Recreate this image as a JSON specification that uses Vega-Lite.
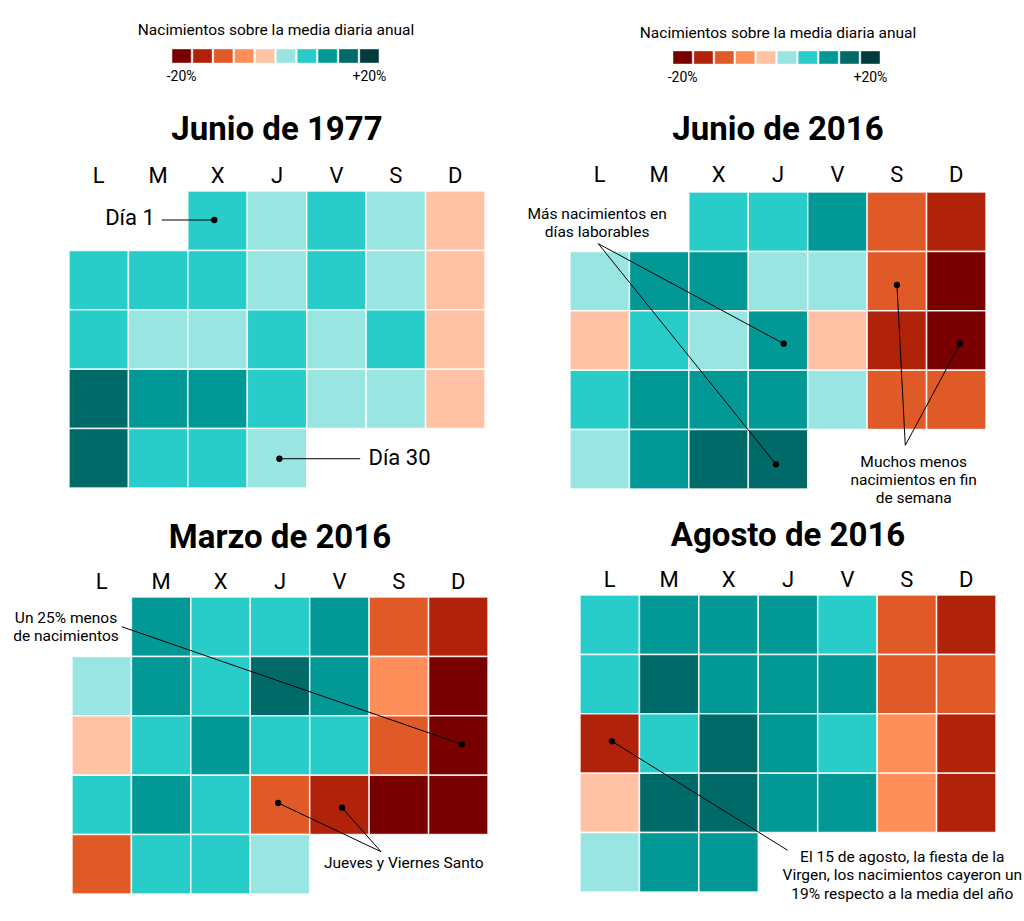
{
  "$schema": "https://vega.github.io/schema/vega-lite/v6.json",
  "padding": {"left": 13, "top": 23, "right": 0, "bottom": 0},
  "background": "#ffffff",
  "config": {
    "font": "Roboto",
    "view": {"stroke": null},
    "title": {"font": "Roboto", "color": "#000000"},
    "axis": {"labelFont": "Roboto", "labelColor": "#000000"}
  },
  "datasets": {
    "niveles": [
      {"nivel": 1}, {"nivel": 2}, {"nivel": 3}, {"nivel": 4}, {"nivel": 5},
      {"nivel": 6}, {"nivel": 7}, {"nivel": 8}, {"nivel": 9}, {"nivel": 10}
    ],
    "c1977": [
      {"dia": "X", "semana": 1, "nivel": 7}, {"dia": "J", "semana": 1, "nivel": 6}, {"dia": "V", "semana": 1, "nivel": 7}, {"dia": "S", "semana": 1, "nivel": 6}, {"dia": "D", "semana": 1, "nivel": 5},
      {"dia": "L", "semana": 2, "nivel": 7}, {"dia": "M", "semana": 2, "nivel": 7}, {"dia": "X", "semana": 2, "nivel": 7}, {"dia": "J", "semana": 2, "nivel": 6}, {"dia": "V", "semana": 2, "nivel": 7}, {"dia": "S", "semana": 2, "nivel": 6}, {"dia": "D", "semana": 2, "nivel": 5},
      {"dia": "L", "semana": 3, "nivel": 7}, {"dia": "M", "semana": 3, "nivel": 6}, {"dia": "X", "semana": 3, "nivel": 6}, {"dia": "J", "semana": 3, "nivel": 7}, {"dia": "V", "semana": 3, "nivel": 6}, {"dia": "S", "semana": 3, "nivel": 7}, {"dia": "D", "semana": 3, "nivel": 5},
      {"dia": "L", "semana": 4, "nivel": 9}, {"dia": "M", "semana": 4, "nivel": 8}, {"dia": "X", "semana": 4, "nivel": 8}, {"dia": "J", "semana": 4, "nivel": 7}, {"dia": "V", "semana": 4, "nivel": 6}, {"dia": "S", "semana": 4, "nivel": 6}, {"dia": "D", "semana": 4, "nivel": 5},
      {"dia": "L", "semana": 5, "nivel": 9}, {"dia": "M", "semana": 5, "nivel": 7}, {"dia": "X", "semana": 5, "nivel": 7}, {"dia": "J", "semana": 5, "nivel": 6}
    ],
    "cjun2016": [
      {"dia": "X", "semana": 1, "nivel": 7}, {"dia": "J", "semana": 1, "nivel": 7}, {"dia": "V", "semana": 1, "nivel": 8}, {"dia": "S", "semana": 1, "nivel": 3}, {"dia": "D", "semana": 1, "nivel": 2},
      {"dia": "L", "semana": 2, "nivel": 6}, {"dia": "M", "semana": 2, "nivel": 8}, {"dia": "X", "semana": 2, "nivel": 8}, {"dia": "J", "semana": 2, "nivel": 6}, {"dia": "V", "semana": 2, "nivel": 6}, {"dia": "S", "semana": 2, "nivel": 3}, {"dia": "D", "semana": 2, "nivel": 1},
      {"dia": "L", "semana": 3, "nivel": 5}, {"dia": "M", "semana": 3, "nivel": 7}, {"dia": "X", "semana": 3, "nivel": 6}, {"dia": "J", "semana": 3, "nivel": 8}, {"dia": "V", "semana": 3, "nivel": 5}, {"dia": "S", "semana": 3, "nivel": 2}, {"dia": "D", "semana": 3, "nivel": 1},
      {"dia": "L", "semana": 4, "nivel": 7}, {"dia": "M", "semana": 4, "nivel": 8}, {"dia": "X", "semana": 4, "nivel": 8}, {"dia": "J", "semana": 4, "nivel": 8}, {"dia": "V", "semana": 4, "nivel": 6}, {"dia": "S", "semana": 4, "nivel": 3}, {"dia": "D", "semana": 4, "nivel": 3},
      {"dia": "L", "semana": 5, "nivel": 6}, {"dia": "M", "semana": 5, "nivel": 8}, {"dia": "X", "semana": 5, "nivel": 9}, {"dia": "J", "semana": 5, "nivel": 9}
    ],
    "cmar2016": [
      {"dia": "M", "semana": 1, "nivel": 8}, {"dia": "X", "semana": 1, "nivel": 7}, {"dia": "J", "semana": 1, "nivel": 7}, {"dia": "V", "semana": 1, "nivel": 8}, {"dia": "S", "semana": 1, "nivel": 3}, {"dia": "D", "semana": 1, "nivel": 2},
      {"dia": "L", "semana": 2, "nivel": 6}, {"dia": "M", "semana": 2, "nivel": 8}, {"dia": "X", "semana": 2, "nivel": 7}, {"dia": "J", "semana": 2, "nivel": 9}, {"dia": "V", "semana": 2, "nivel": 8}, {"dia": "S", "semana": 2, "nivel": 4}, {"dia": "D", "semana": 2, "nivel": 1},
      {"dia": "L", "semana": 3, "nivel": 5}, {"dia": "M", "semana": 3, "nivel": 7}, {"dia": "X", "semana": 3, "nivel": 8}, {"dia": "J", "semana": 3, "nivel": 7}, {"dia": "V", "semana": 3, "nivel": 7}, {"dia": "S", "semana": 3, "nivel": 3}, {"dia": "D", "semana": 3, "nivel": 1},
      {"dia": "L", "semana": 4, "nivel": 7}, {"dia": "M", "semana": 4, "nivel": 8}, {"dia": "X", "semana": 4, "nivel": 7}, {"dia": "J", "semana": 4, "nivel": 3}, {"dia": "V", "semana": 4, "nivel": 2}, {"dia": "S", "semana": 4, "nivel": 1}, {"dia": "D", "semana": 4, "nivel": 1},
      {"dia": "L", "semana": 5, "nivel": 3}, {"dia": "M", "semana": 5, "nivel": 7}, {"dia": "X", "semana": 5, "nivel": 7}, {"dia": "J", "semana": 5, "nivel": 6}
    ],
    "cago2016": [
      {"dia": "L", "semana": 1, "nivel": 7}, {"dia": "M", "semana": 1, "nivel": 8}, {"dia": "X", "semana": 1, "nivel": 8}, {"dia": "J", "semana": 1, "nivel": 8}, {"dia": "V", "semana": 1, "nivel": 7}, {"dia": "S", "semana": 1, "nivel": 3}, {"dia": "D", "semana": 1, "nivel": 2},
      {"dia": "L", "semana": 2, "nivel": 7}, {"dia": "M", "semana": 2, "nivel": 9}, {"dia": "X", "semana": 2, "nivel": 8}, {"dia": "J", "semana": 2, "nivel": 8}, {"dia": "V", "semana": 2, "nivel": 8}, {"dia": "S", "semana": 2, "nivel": 3}, {"dia": "D", "semana": 2, "nivel": 3},
      {"dia": "L", "semana": 3, "nivel": 2}, {"dia": "M", "semana": 3, "nivel": 7}, {"dia": "X", "semana": 3, "nivel": 9}, {"dia": "J", "semana": 3, "nivel": 8}, {"dia": "V", "semana": 3, "nivel": 7}, {"dia": "S", "semana": 3, "nivel": 4}, {"dia": "D", "semana": 3, "nivel": 2},
      {"dia": "L", "semana": 4, "nivel": 5}, {"dia": "M", "semana": 4, "nivel": 9}, {"dia": "X", "semana": 4, "nivel": 9}, {"dia": "J", "semana": 4, "nivel": 8}, {"dia": "V", "semana": 4, "nivel": 8}, {"dia": "S", "semana": 4, "nivel": 4}, {"dia": "D", "semana": 4, "nivel": 2},
      {"dia": "L", "semana": 5, "nivel": 6}, {"dia": "M", "semana": 5, "nivel": 8}, {"dia": "X", "semana": 5, "nivel": 8}
    ],
    "t1977": [
      {"t": "Día 1", "u": 1.026, "v": 0.455},
      {"t": "Día 30", "u": 5.561, "v": 4.49}
    ],
    "r1977": [
      {"u": 1.56, "v": 0.488, "u2": 2.445, "v2": 0.488},
      {"u": 3.54, "v": 4.507, "u2": 4.9, "v2": 4.507}
    ],
    "p1977": [
      {"u": 2.445, "v": 0.488},
      {"u": 3.54, "v": 4.507}
    ],
    "tjun2016": [
      {"t": "Más nacimientos en", "u": 0.457, "v": 0.365},
      {"t": "días laborables", "u": 0.457, "v": 0.668},
      {"t": "Muchos menos", "u": 5.783, "v": 4.545},
      {"t": "nacimientos en fin", "u": 5.783, "v": 4.853},
      {"t": "de semana", "u": 5.783, "v": 5.146}
    ],
    "rjun2016": [
      {"u": 0.476, "v": 0.87, "u2": 3.596, "v2": 2.554},
      {"u": 0.476, "v": 0.87, "u2": 3.466, "v2": 4.584},
      {"u": 5.642, "v": 4.264, "u2": 5.502, "v2": 1.566},
      {"u": 5.642, "v": 4.264, "u2": 6.562, "v2": 2.554}
    ],
    "pjun2016": [
      {"u": 3.596, "v": 2.554},
      {"u": 3.466, "v": 4.584},
      {"u": 5.502, "v": 1.566},
      {"u": 6.562, "v": 2.554}
    ],
    "tmar2016": [
      {"t": "Un 25% menos", "u": -0.101, "v": 0.348},
      {"t": "de nacimientos", "u": -0.101, "v": 0.657},
      {"t": "Jueves y Viernes Santo", "u": 5.583, "v": 4.473}
    ],
    "rmar2016": [
      {"u": 0.836, "v": 0.5, "u2": 6.562, "v2": 2.48},
      {"u": 5.2, "v": 4.288, "u2": 3.47, "v2": 3.468},
      {"u": 5.2, "v": 4.288, "u2": 4.543, "v2": 3.547}
    ],
    "pmar2016": [
      {"u": 6.562, "v": 2.48},
      {"u": 3.47, "v": 3.468},
      {"u": 4.543, "v": 3.547}
    ],
    "tago2016": [
      {"t": "El 15 de agosto, la fiesta de la", "u": 5.423, "v": 4.41},
      {"t": "Virgen, los nacimientos cayeron un", "u": 5.423, "v": 4.719},
      {"t": "19% respecto a la media del año", "u": 5.423, "v": 5.03}
    ],
    "rago2016": [
      {"u": 0.538, "v": 2.463, "u2": 3.495, "v2": 4.298}
    ],
    "pago2016": [
      {"u": 0.538, "v": 2.463}
    ]
  },
  "columns": 2,
  "spacing": {"row": 106, "column": 82},
  "bounds": "flush",
  "concat": [
    {
      "width": 416,
      "height": 36,
      "title": {"text": "Nacimientos sobre la media diaria anual", "fontSize": 15.5, "fontWeight": "normal", "frame": "group", "anchor": "middle", "dx": -1, "offset": 10},
      "data": {"name": "niveles"},
      "mark": {"type": "rect", "stroke": "#ffffff", "strokeOpacity": 0.4, "strokeWidth": 1},
      "encoding": {
        "x": {"field": "nivel", "type": "ordinal", "scale": {"range": [103, 310], "paddingInner": 0.08, "paddingOuter": 0},
          "axis": {"orient": "bottom", "offset": -22, "values": [1, 10], "labelExpr": "datum.value == 1 ? '-20%' : '+20%'", "domain": false, "ticks": false, "title": null, "labelFontSize": 14, "labelPadding": 6, "labelAngle": 0}},
        "y": {"datum": "a", "type": "nominal", "scale": {"range": [0, 14], "paddingInner": 0, "paddingOuter": 0}, "axis": null},
        "color": {"field": "nivel", "type": "ordinal", "scale": {"domain": [1, 2, 3, 4, 5, 6, 7, 8, 9, 10], "range": ["#780000", "#b0230a", "#e05a28", "#ff8f5a", "#ffc2a4", "#98e5e1", "#28ccc8", "#029896", "#006a69", "#003c3b"]}, "legend": null}
      }
    },
    {
      "width": 416,
      "height": 36,
      "title": {"text": "Nacimientos sobre la media diaria anual", "fontSize": 15.5, "fontWeight": "normal", "frame": "group", "anchor": "middle", "dx": 0, "offset": 8},
      "data": {"name": "niveles"},
      "mark": {"type": "rect", "stroke": "#ffffff", "strokeOpacity": 0.4, "strokeWidth": 1},
      "encoding": {
        "x": {"field": "nivel", "type": "ordinal", "scale": {"range": [103, 310], "paddingInner": 0.08, "paddingOuter": 0},
          "axis": {"orient": "bottom", "offset": -21, "values": [1, 10], "labelExpr": "datum.value == 1 ? '-20%' : '+20%'", "domain": false, "ticks": false, "title": null, "labelFontSize": 14, "labelPadding": 6, "labelAngle": 0}},
        "y": {"datum": "a", "type": "nominal", "scale": {"range": [2, 15], "paddingInner": 0, "paddingOuter": 0}, "axis": null},
        "color": {"field": "nivel", "type": "ordinal", "legend": null}
      }
    },
    {
      "width": 416,
      "height": 298,
      "title": {"text": "Junio de 1977", "fontSize": 33, "fontWeight": "bold", "frame": "group", "anchor": "middle", "offset": 17},
      "resolve": {"scale": {"x": "independent", "y": "independent"}},
      "layer": [
        {
          "data": {"name": "c1977"},
          "mark": {"type": "rect", "stroke": "#ffffff", "strokeWidth": 1.5, "strokeOpacity": 0.85},
          "encoding": {
            "x": {"field": "dia", "type": "ordinal", "scale": {"domain": ["L", "M", "X", "J", "V", "S", "D"], "paddingInner": 0, "paddingOuter": 0},
              "axis": {"orient": "top", "title": null, "domain": false, "ticks": false, "labelFontSize": 22, "labelPadding": 4, "labelAngle": 0}},
            "y": {"field": "semana", "type": "ordinal", "scale": {"domain": [1, 2, 3, 4, 5], "range": [0, 297], "paddingInner": 0, "paddingOuter": 0}, "axis": null},
            "color": {"field": "nivel", "type": "ordinal", "legend": null}
          }
        },
        {
          "layer": [
            {
              "data": {"name": "r1977"},
              "mark": {"type": "rule", "color": "#000000", "strokeWidth": 1},
              "encoding": {
                "x": {"field": "u", "type": "quantitative", "scale": {"domain": [0, 7], "nice": false, "zero": false}, "axis": null},
                "y": {"field": "v", "type": "quantitative", "scale": {"domain": [0, 5], "range": [0, 297], "nice": false, "zero": false}, "axis": null},
                "x2": {"field": "u2"},
                "y2": {"field": "v2"}
              }
            },
            {
              "data": {"name": "p1977"},
              "mark": {"type": "circle", "size": 40, "color": "#000000", "opacity": 1},
              "encoding": {
                "x": {"field": "u", "type": "quantitative"},
                "y": {"field": "v", "type": "quantitative"}
              }
            },
            {
              "data": {"name": "t1977"},
              "mark": {"type": "text", "fontSize": 22, "align": "center", "baseline": "middle", "color": "#000000"},
              "encoding": {
                "x": {"field": "u", "type": "quantitative"},
                "y": {"field": "v", "type": "quantitative"},
                "text": {"field": "t"}
              }
            }
          ]
        }
      ]
    },
    {
      "width": 416,
      "height": 298,
      "title": {"text": "Junio de 2016", "fontSize": 33, "fontWeight": "bold", "frame": "group", "anchor": "middle", "offset": 16},
      "resolve": {"scale": {"x": "independent", "y": "independent"}},
      "layer": [
        {
          "data": {"name": "cjun2016"},
          "mark": {"type": "rect", "stroke": "#ffffff", "strokeWidth": 1.5, "strokeOpacity": 0.85},
          "encoding": {
            "x": {"field": "dia", "type": "ordinal", "scale": {"domain": ["L", "M", "X", "J", "V", "S", "D"], "paddingInner": 0, "paddingOuter": 0},
              "axis": {"orient": "top", "title": null, "domain": false, "ticks": false, "labelFontSize": 22, "labelPadding": 5, "labelAngle": 0}},
            "y": {"field": "semana", "type": "ordinal", "scale": {"domain": [1, 2, 3, 4, 5], "range": [1, 298], "paddingInner": 0, "paddingOuter": 0}, "axis": null},
            "color": {"field": "nivel", "type": "ordinal", "legend": null}
          }
        },
        {
          "layer": [
            {
              "data": {"name": "rjun2016"},
              "mark": {"type": "rule", "color": "#000000", "strokeWidth": 1},
              "encoding": {
                "x": {"field": "u", "type": "quantitative", "scale": {"domain": [0, 7], "nice": false, "zero": false}, "axis": null},
                "y": {"field": "v", "type": "quantitative", "scale": {"domain": [0, 5], "range": [1, 298], "nice": false, "zero": false}, "axis": null},
                "x2": {"field": "u2"},
                "y2": {"field": "v2"}
              }
            },
            {
              "data": {"name": "pjun2016"},
              "mark": {"type": "circle", "size": 40, "color": "#000000", "opacity": 1},
              "encoding": {
                "x": {"field": "u", "type": "quantitative"},
                "y": {"field": "v", "type": "quantitative"}
              }
            },
            {
              "data": {"name": "tjun2016"},
              "mark": {"type": "text", "fontSize": 15.5, "align": "center", "baseline": "middle", "color": "#000000"},
              "encoding": {
                "x": {"field": "u", "type": "quantitative"},
                "y": {"field": "v", "type": "quantitative"},
                "text": {"field": "t"}
              }
            }
          ]
        }
      ]
    },
    {
      "width": 419,
      "height": 299,
      "title": {"text": "Marzo de 2016", "fontSize": 33, "fontWeight": "bold", "frame": "group", "anchor": "middle", "offset": 15, "dx": 1.5},
      "resolve": {"scale": {"x": "independent", "y": "independent"}},
      "layer": [
        {
          "data": {"name": "cmar2016"},
          "mark": {"type": "rect", "stroke": "#ffffff", "strokeWidth": 1.5, "strokeOpacity": 0.85},
          "encoding": {
            "x": {"field": "dia", "type": "ordinal", "scale": {"domain": ["L", "M", "X", "J", "V", "S", "D"], "range": [3, 419], "paddingInner": 0, "paddingOuter": 0},
              "axis": {"orient": "top", "title": null, "domain": false, "ticks": false, "labelFontSize": 22, "labelPadding": 2, "labelAngle": 0}},
            "y": {"field": "semana", "type": "ordinal", "scale": {"domain": [1, 2, 3, 4, 5], "range": [2, 299], "paddingInner": 0, "paddingOuter": 0}, "axis": null},
            "color": {"field": "nivel", "type": "ordinal", "legend": null}
          }
        },
        {
          "layer": [
            {
              "data": {"name": "rmar2016"},
              "mark": {"type": "rule", "color": "#000000", "strokeWidth": 1},
              "encoding": {
                "x": {"field": "u", "type": "quantitative", "scale": {"domain": [0, 7], "range": [3, 419], "nice": false, "zero": false}, "axis": null},
                "y": {"field": "v", "type": "quantitative", "scale": {"domain": [0, 5], "range": [2, 299], "nice": false, "zero": false}, "axis": null},
                "x2": {"field": "u2"},
                "y2": {"field": "v2"}
              }
            },
            {
              "data": {"name": "pmar2016"},
              "mark": {"type": "circle", "size": 40, "color": "#000000", "opacity": 1},
              "encoding": {
                "x": {"field": "u", "type": "quantitative"},
                "y": {"field": "v", "type": "quantitative"}
              }
            },
            {
              "data": {"name": "tmar2016"},
              "mark": {"type": "text", "fontSize": 15.5, "align": "center", "baseline": "middle", "color": "#000000"},
              "encoding": {
                "x": {"field": "u", "type": "quantitative"},
                "y": {"field": "v", "type": "quantitative"},
                "text": {"field": "t"}
              }
            }
          ]
        }
      ]
    },
    {
      "width": 426,
      "height": 299,
      "title": {"text": "Agosto de 2016", "fontSize": 33, "fontWeight": "bold", "frame": "group", "anchor": "middle", "offset": 15, "dx": 5},
      "resolve": {"scale": {"x": "independent", "y": "independent"}},
      "layer": [
        {
          "data": {"name": "cago2016"},
          "mark": {"type": "rect", "stroke": "#ffffff", "strokeWidth": 1.5, "strokeOpacity": 0.85},
          "encoding": {
            "x": {"field": "dia", "type": "ordinal", "scale": {"domain": ["L", "M", "X", "J", "V", "S", "D"], "range": [10, 426], "paddingInner": 0, "paddingOuter": 0},
              "axis": {"orient": "top", "title": null, "domain": false, "ticks": false, "labelFontSize": 22, "labelPadding": 4, "labelAngle": 0}},
            "y": {"field": "semana", "type": "ordinal", "scale": {"domain": [1, 2, 3, 4, 5], "range": [0, 297], "paddingInner": 0, "paddingOuter": 0}, "axis": null},
            "color": {"field": "nivel", "type": "ordinal", "legend": null}
          }
        },
        {
          "layer": [
            {
              "data": {"name": "rago2016"},
              "mark": {"type": "rule", "color": "#000000", "strokeWidth": 1},
              "encoding": {
                "x": {"field": "u", "type": "quantitative", "scale": {"domain": [0, 7], "range": [10, 426], "nice": false, "zero": false}, "axis": null},
                "y": {"field": "v", "type": "quantitative", "scale": {"domain": [0, 5], "range": [0, 297], "nice": false, "zero": false}, "axis": null},
                "x2": {"field": "u2"},
                "y2": {"field": "v2"}
              }
            },
            {
              "data": {"name": "pago2016"},
              "mark": {"type": "circle", "size": 40, "color": "#000000", "opacity": 1},
              "encoding": {
                "x": {"field": "u", "type": "quantitative"},
                "y": {"field": "v", "type": "quantitative"}
              }
            },
            {
              "data": {"name": "tago2016"},
              "mark": {"type": "text", "fontSize": 15.5, "align": "center", "baseline": "middle", "color": "#000000"},
              "encoding": {
                "x": {"field": "u", "type": "quantitative"},
                "y": {"field": "v", "type": "quantitative"},
                "text": {"field": "t"}
              }
            }
          ]
        }
      ]
    }
  ]
}
